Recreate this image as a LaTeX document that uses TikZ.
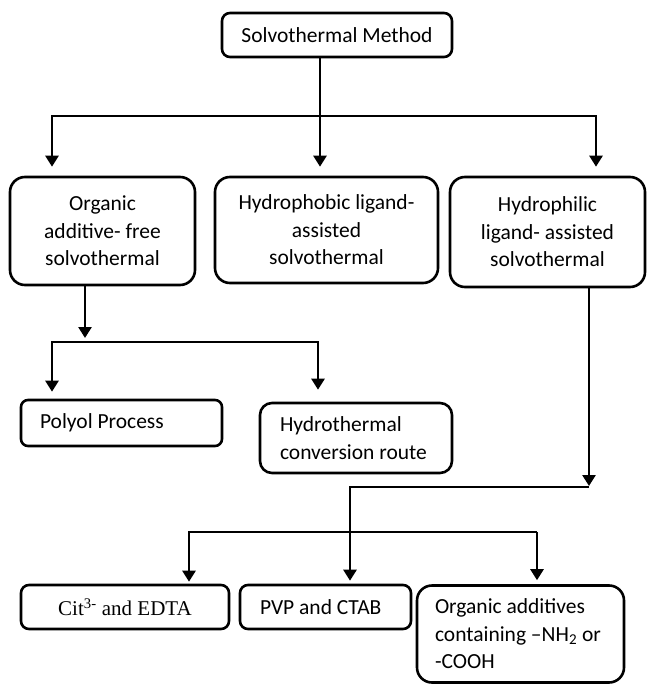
\documentclass[tikz,border=0pt]{standalone}
\usepackage{fontspec}
\setmainfont{Carlito}
\newfontfamily\timesfont{Liberation Serif}
\usetikzlibrary{arrows.meta}

\begin{document}
\begin{tikzpicture}[x=1pt,y=-1pt,
  box/.style={draw, line width=2.6pt, inner sep=0pt,
    font=\fontsize{21.5}{27.5}\selectfont, align=center},
  bigbox/.style={box, rounded corners=15pt},
  smallbox/.style={box, rounded corners=8pt},
  leftbox/.style={align=flush left, inner xsep=#1},
  arr/.style={line width=2.6pt, -{Triangle[length=11pt,width=13pt]}}
]
\useasboundingbox (0,0) rectangle (647,684);

% main heading
\node[smallbox, minimum width=230pt, minimum height=44pt] (top) at (337,35)
  {Solvothermal Method};

% first level
\node[bigbox, minimum width=185pt, minimum height=108pt] (org) at (102.5,231)
  {Organic\\additive- free\\solvothermal};
\node[bigbox, minimum width=223pt, minimum height=106pt] (phob) at (326.5,230)
  {Hydrophobic ligand-\\assisted\\solvothermal};
\node[bigbox, minimum width=195pt, minimum height=110pt] (phil) at (547.5,232)
  {Hydrophilic\\ligand- assisted\\solvothermal};

% branches of the additive-free route
\node[smallbox, rounded corners=7pt, leftbox=19pt, text width=163pt,
  minimum height=46pt] (polyol) at (121.5,423) {Polyol Process};
\node[smallbox, rounded corners=12pt, leftbox=20pt, text width=152pt,
  minimum height=70pt] (hydro) at (356,438) {Hydrothermal\\conversion route};

% hydrophilic ligands
\node[smallbox, minimum width=208pt, minimum height=44pt,
  font=\timesfont\fontsize{21}{24}\selectfont] (cit) at (125,607)
  {Cit\textsuperscript{3-} and EDTA};
\node[smallbox, leftbox=20pt, text width=131pt, minimum height=44pt]
  (pvp) at (325.5,607) {PVP and CTAB};
\node[bigbox, leftbox=18pt, text width=171pt, minimum height=97pt]
  (orgadd) at (520.5,634)
  {Organic additives\\containing --NH\textsubscript{2} or\\-COOH};

% junction points
\coordinate (jtop) at (320,116);
\coordinate (jL) at (52,116);
\coordinate (jR) at (596,116);
\coordinate (jO) at (85,342);
\coordinate (jP) at (52,342);
\coordinate (jH) at (318,342);
\coordinate (jS) at (589,487);
\coordinate (jV) at (350,487);
\coordinate (jC) at (189,532);
\coordinate (jD) at (537,532);

% connectors
\draw[arr, shorten >=9pt] (top.south -| jtop) -- (jtop |- phob.north);
\draw[arr, shorten >=9pt] (jtop) -- (jL) -- (jL |- org.north);
\draw[arr, shorten >=9pt] (jtop) -- (jR) -- (jR |- phil.north);

\draw[arr, shorten >=4pt] (org.south -| jO) -- (jO);
\draw[arr, shorten >=7pt] (jO) -- (jP) -- (jP |- polyol.north);
\draw[arr, shorten >=12pt] (jO) -- (jH) -- (jH |- hydro.north);

\draw[arr, shorten >=1pt] (phil.south -| jS) -- (jS);
\draw[arr, shorten >=3pt] (jS) -- (jV) -- (jV |- pvp.north);
\draw[arr, shorten >=2pt] (jD) -- (jC) -- (jC |- cit.north);
\draw[arr, shorten >=4pt] (jD) -- (jD |- orgadd.north);
\end{tikzpicture}
\end{document}
